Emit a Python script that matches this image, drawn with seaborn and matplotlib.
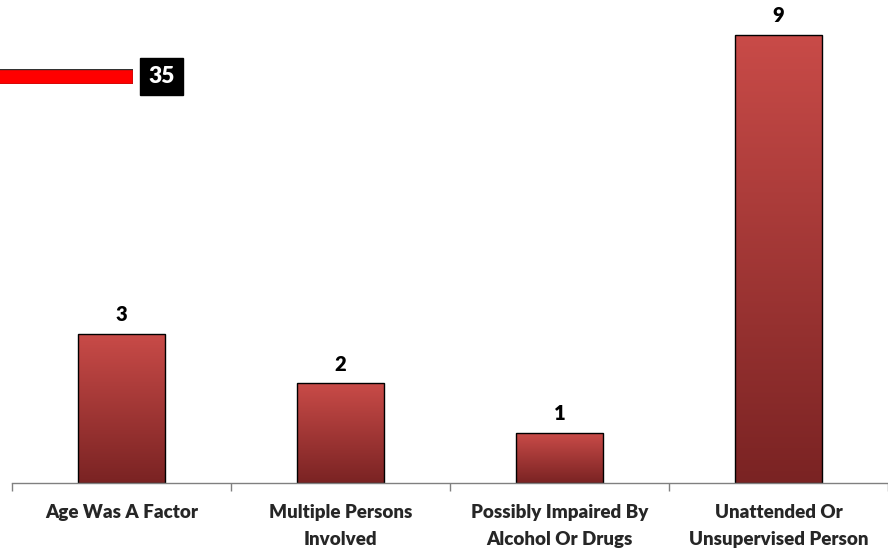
import matplotlib
matplotlib.use('Agg')
import matplotlib.pyplot as plt
from matplotlib.colors import LinearSegmentedColormap
import numpy as np
import pandas as pd
import seaborn as sns

categories = ["Age Was A Factor", "Multiple Persons\nInvolved",
              "Possibly Impaired By\nAlcohol Or Drugs", "Unattended Or\nUnsupervised Person"]
counts = [3, 2, 1, 9]

# leftover bar from another chart at the top-left
side_value = [35]

sns.set_theme(style="white")
plt.rcParams['font.family'] = ['Lato', 'DejaVu Sans']

df = pd.DataFrame({"cat": categories, "n": counts})

fig = plt.figure(figsize=(8.88, 5.5), dpi=100)
ax = fig.add_axes([12 / 888, 67 / 550, 876 / 888, 483 / 550])

sns.barplot(data=df, x="cat", y="n", width=0.4, color="#a33a38",
            edgecolor="black", linewidth=1.0, ax=ax)

# vertical gradient inside each bar
grad_cmap = LinearSegmentedColormap.from_list("redgrad", ["#7a2323", "#c94b48"])
grad = np.linspace(0, 1, 256).reshape(-1, 1)
for p in ax.patches:
    x0, y0 = p.get_x(), p.get_y()
    w, h = p.get_width(), p.get_height()
    im = ax.imshow(grad, cmap=grad_cmap, origin="lower", aspect="auto",
                   extent=[x0, x0 + w, y0, y0 + h], zorder=p.get_zorder())
    im.set_clip_path(p)
    p.set_facecolor("none")
    p.set_zorder(im.get_zorder() + 0.1)

for i, v in enumerate(counts):
    ax.annotate(str(v), (i, v), xytext=(0, 7), textcoords="offset points",
                ha="center", va="bottom", fontsize=14.5, fontweight="heavy", color="black")

ax.set_xlim(-0.5, 3.5)
ax.set_ylim(0, 9.7)
ax.set_xlabel("")
ax.set_ylabel("")
ax.set_yticks([])
ax.set_xticks(range(len(categories)))
ax.set_xticklabels(categories, fontsize=13.5, fontweight="heavy", linespacing=1.75)
ax.set_xticks(np.arange(-0.5, 4, 1), minor=True)
ax.tick_params(axis="x", which="major", length=0, pad=15)
ax.tick_params(axis="x", which="minor", length=6, width=1, color="#808080",
               direction="out", bottom=True)
for s in ["top", "left", "right"]:
    ax.spines[s].set_visible(False)
ax.spines["bottom"].set_color("#808080")
ax.spines["bottom"].set_linewidth(1)

# small horizontal bar at top-left (runs off the left edge)
ax2 = fig.add_axes([-20 / 888, 1 - 84 / 550, 153 / 888, 15 / 550])
ax2.barh([0], side_value, height=1, color="#ff0000", edgecolor="#333333", linewidth=1)
ax2.set_xlim(0, side_value[0])
ax2.set_ylim(-0.5, 0.5)
ax2.axis("off")
ax2.annotate(str(side_value[0]), (side_value[0], 0), xytext=(11, 0),
             textcoords="offset points", ha="left", va="center",
             fontsize=16.5, fontweight="heavy", color="white",
             bbox=dict(boxstyle="square,pad=0.35", fc="black", ec="black"),
             annotation_clip=False)

fig.savefig("out.png", dpi=100)
